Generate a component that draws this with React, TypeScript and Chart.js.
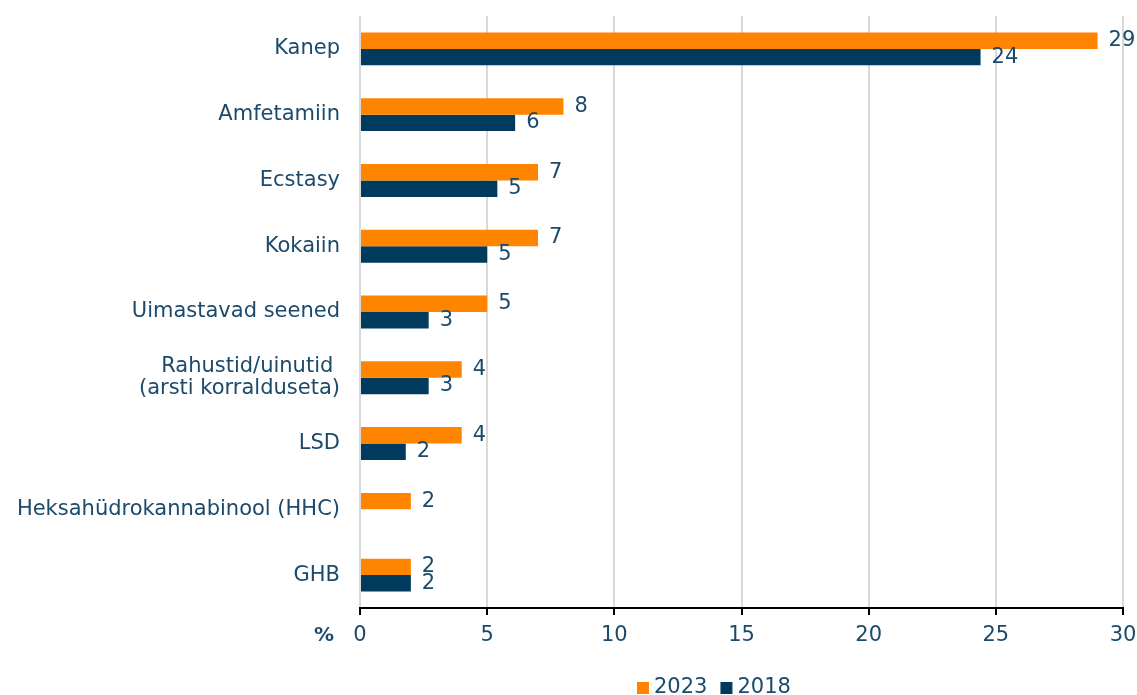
import React, { useEffect, useRef } from 'react';
import { Chart, registerables } from 'chart.js';

Chart.register(...registerables);

const categories: (string | string[])[] = [
  'Kanep',
  'Amfetamiin',
  'Ecstasy',
  'Kokaiin',
  'Uimastavad seened',
  ['Rahustid/uinutid ', '(arsti korralduseta)'],
  'LSD',
  'Heksahüdrokannabinool (HHC)',
  'GHB',
];
const series2023: (number | null)[] = [29, 8, 7, 7, 5, 4, 4, 2, 2];
const series2018: (number | null)[] = [24.4, 6.1, 5.4, 5.0, 2.7, 2.7, 1.8, null, 2.0];
const seriesNames = ['2023', '2018'];
const xTicks = [0, 5, 10, 15, 20, 25, 30];
const unitLabel = '%';

const ORANGE = '#FF8400';
const NAVY = '#003A5D';
const TEXT = '#1B4A6B';
const FONT = "'DejaVu Sans', sans-serif";
const FS = 21;

const overlayPlugin = {
  id: 'overlay',
  afterDatasetsDraw(chart: any) {
    const ctx = chart.ctx;
    ctx.save();
    ctx.font = `${FS}px ${FONT}`;
    ctx.fillStyle = TEXT;
    ctx.textBaseline = 'middle';
    ctx.textAlign = 'left';
    chart.data.datasets.forEach((ds: any, di: number) => {
      const meta = chart.getDatasetMeta(di);
      meta.data.forEach((el: any, i: number) => {
        const v = ds.data[i];
        if (v === null || v === undefined) return;
        ctx.fillText(String(Math.round(v)), el.x + 11, el.y);
      });
    });
    // unit label left of x ticks
    const xs = chart.scales.x;
    ctx.textAlign = 'right';
    ctx.font = `bold ${FS - 1}px ${FONT}`;
    ctx.fillText(unitLabel, xs.left - 26, 636);
    // legend
    ctx.font = `${FS}px ${FONT}`;
    ctx.textAlign = 'left';
    let x = 637;
    const y = 688;
    chart.data.datasets.forEach((ds: any) => {
      ctx.fillStyle = ds.backgroundColor;
      ctx.fillRect(x, y - 6, 12, 12);
      x += 17;
      ctx.fillStyle = TEXT;
      ctx.fillText(ds.label, x, y);
      x += ctx.measureText(ds.label).width + 13;
    });
    ctx.restore();
  },
};

export default function App() {
  const ref = useRef<HTMLCanvasElement | null>(null);
  useEffect(() => {
    if (!ref.current) return;
    const chart = new Chart(ref.current, {
      type: 'bar',
      data: {
        labels: categories,
        datasets: [
          { label: seriesNames[0], data: series2023, backgroundColor: ORANGE, categoryPercentage: 0.5, barPercentage: 1 },
          { label: seriesNames[1], data: series2018, backgroundColor: NAVY, categoryPercentage: 0.5, barPercentage: 1 },
        ],
      },
      options: {
        indexAxis: 'y',
        animation: false,
        responsive: true,
        maintainAspectRatio: false,
        layout: { padding: { top: 16, right: 14, left: 0, bottom: 0 } },
        plugins: {
          legend: { display: false },
          tooltip: { enabled: false },
        },
        scales: {
          x: {
            min: 0,
            max: 30,
            afterBuildTicks: (s: any) => { s.ticks = xTicks.map((v) => ({ value: v })); },
            afterFit: (s: any) => { s.height = 87; s.paddingLeft = 0; s.paddingRight = 0; },
            grid: { color: '#D9D9D9', lineWidth: 2, tickColor: '#000', tickLength: 7, tickWidth: 2, drawTicks: true },
            border: { display: true, color: '#000', width: 2 },
            ticks: { color: TEXT, font: { family: FONT, size: FS }, padding: 8, maxRotation: 0 },
          },
          y: {
            afterFit: (s: any) => { s.width = 360; s.paddingTop = 0; s.paddingBottom = 0; },
            grid: { display: false, drawTicks: false },
            border: { display: false },
            ticks: { color: TEXT, font: { family: FONT, size: FS, lineHeight: 1.05 }, padding: 20, autoSkip: false },
          },
        },
      },
      plugins: [overlayPlugin],
    });
    return () => chart.destroy();
  }, []);
  return (
    <div style={{ position: 'absolute', left: 0, top: 0, width: 1137, height: 695 }}>
      <canvas ref={ref} />
    </div>
  );
}
